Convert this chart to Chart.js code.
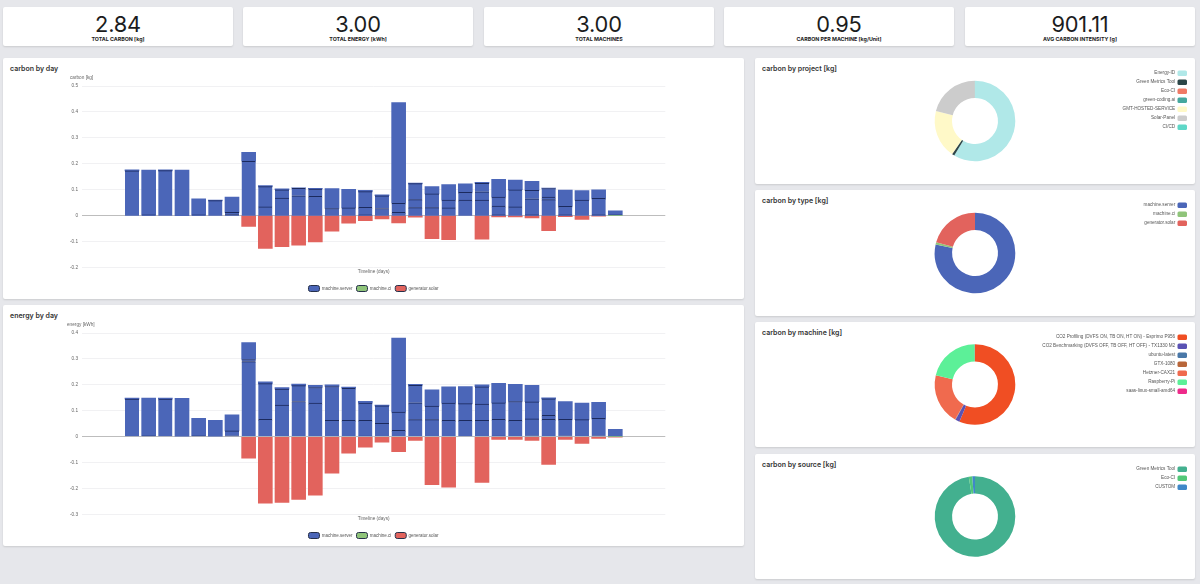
<!DOCTYPE html>
<html><head><meta charset="utf-8">
<script src="https://cdn.jsdelivr.net/npm/chart.js@4"></script>
<style>
html,body{margin:0;padding:0;background:#e6e7eb;width:1200px;height:584px;overflow:hidden;font-family:Inter,Roboto,sans-serif}
.card{position:absolute;background:#fff;border-radius:2px;box-shadow:0 1px 2px rgba(0,0,0,.12)}
.kpi{top:7px;height:39px;width:230px;text-align:center}
.kpi b{display:block;font-weight:400;font-size:21.8px;line-height:24px;margin-top:4.5px;color:#1b1c1d;letter-spacing:-.2px}
.kpi span{display:block;font-weight:700;font-size:5.3px;line-height:7px;margin-top:0;color:#222}
.title{position:absolute;left:7px;top:5.5px;font-weight:600;font-size:7px;line-height:10px;color:#333}
.card canvas{position:absolute;left:0;top:0}
</style></head><body>
<script>
const kpiValues=["2.84","3.00","3.00","0.95","901.11"];
const kpiLabels=["TOTAL CARBON [kg]","TOTAL ENERGY [kWh]","TOTAL MACHINES","CARBON PER MACHINE [kg/Unit]","AVG CARBON INTENSITY [g]"];
const kpiLeft=[3,243,484,724,965];

const dayCount=36, firstDay=3;
const dayLabels=Array.from({length:dayCount},(_,i)=>"day "+(i+1));

// stack boundaries of machine.server per day (first bar onward); last number is the bar top
const carbonServer=[
[.173,.177],[.003,.176],[.174,.177],[.176],[.003,.065],[.058,.06],[.004,.013,.072],[.21,.244],
[.034,.112,.116],[.068,.1,.104],[.077,.106,.108],[.075,.103,.106],[.028,.105],[.03,.102],[.003,.032,.093,.098],[.028,.077,.081],
[.013,.048,.436],[.031,.062,.124,.126],[.031,.084,.112],[.03,.06,.12],[.06,.09,.1226],[.06,.092,.125,.129],[.003,.037,.072,.14],[.034,.1,.137],
[.003,.065,.098,.133],[.062,.072,.105,.107],[.003,.036,.099],[.06,.097],[.003,.067,.1],[.002,.018]];
const carbonCi=[0,0,0,0,0,0,0,0,0,0,0,0,0,0,0,0,0,0,0,0,0,0,0,0,0,0,0,0,0,.001];
const carbonSolar=[0,0,0,0,0,0,0,-.041,-.126,-.119,-.114,-.101,-.06,-.029,-.019,-.012,-.028,-.006,-.088,-.092,0,-.09,-.005,-.005,-.008,-.058,-.004,-.014,-.002,0];

const energyServer=[
[.145,.149],[.004,.149],[.145,.149],[.148],[.004,.071],[.063],[.004,.023,.085],[.29,.298,.363],
[.067,.205,.212],[.122,.184,.19],[.136,.197,.203],[.13,.19,.198],[.063,.194,.2],[.063,.187,.192],[.003,.063,.13,.137],[.052,.119,.122],
[.025,.095,.381],[.066,.131,.198,.202],[.066,.118,.181],[.063,.13,.193],[.063,.128,.194],[.063,.126,.193,.2],[.003,.067,.131,.206],[.063,.136,.202],
[.004,.069,.135,.198],[.067,.083,.146,.15],[.004,.067,.136],[.066,.13],[.004,.071,.133],[.001,.028]];
const energyCi=[0,0,0,0,0,0,0,0,0,0,0,0,0,0,0,0,0,0,0,0,0,0,0,0,0,0,0,0,0,.001];
const energySolar=[0,0,0,0,0,0,0,-.082,-.256,-.253,-.241,-.225,-.14,-.063,-.04,-.021,-.057,-.014,-.185,-.194,0,-.176,-.01,-.01,-.014,-.107,-.01,-.026,-.006,-.001];

const projectLabels=["Energy-ID","Green Metrics Tool","Eco-CI","green-coding.ai","GMT-HOSTED-SERVICE","Solar-Panel","CI/CD"];
const projectValues=[1.665,.028,.001,.001,.548,.596,.001];
const projectColors=["#b0e8e8","#2c4648","#f07a66","#45a89e","#fff9c8","#cccccc","#5fd8c8"];
const typeLabels=["machine.server","machine.ci","generator.solar"];
const typeValues=[2.227,.025,.588];
const typeColors=["#4b66b8","#8fc47a","#e2635d"];
const machineLabels=["CO2 Profiling (DVFS ON, TB ON, HT ON) - Esprimo P956","CO2 Benchmarking (DVFS OFF, TB OFF, HT OFF) - TX1330 M2","ubuntu-latest","GTX-1080","Hetzner-CAX21","Raspberry-Pi","saas-linux-small-amd64"];
const machineValues=[1.6,.048,.003,.003,.582,.602,.002];
const machineColors=["#f04e23","#5a52b4","#4a78a8","#b8663a","#f06a4e","#5cf098","#ee2a8a"];
const sourceLabels=["Green Metrics Tool","Eco-CI","CUSTOM"];
const sourceValues=[2.77,.04,.03];
const sourceColors=["#43b08f","#52c878","#4088c8"];

const BLUE="#4b66b8",GREEN="#8fc47a",RED="#e2635d",DARK="#1b2a5e";
Chart.defaults.font.family="'Liberation Sans', Arial, sans-serif";
Chart.defaults.animation=false;

function el(tag,cls,box,parent){const e=document.createElement(tag);if(cls)e.className=cls;
  if(box)Object.assign(e.style,{left:box[0]+"px",top:box[1]+"px",width:box[2]+"px",height:box[3]+"px"});
  (parent||document.body).appendChild(e);return e;}
function makeCard(box,title){const c=el("div","card",box);
  if(title){const t=el("div","title",null,c);t.textContent=title;}
  const cv=document.createElement("canvas");cv.width=box[2];cv.height=box[3];
  cv.style.width=box[2]+"px";cv.style.height=box[3]+"px";c.appendChild(cv);return cv;}

kpiValues.forEach((v,i)=>{const c=el("div","card kpi");c.style.left=kpiLeft[i]+"px";
  const b=document.createElement("b");b.textContent=v;c.appendChild(b);
  const s=document.createElement("span");s.textContent=kpiLabels[i];c.appendChild(s);});

function pad(a){const r=new Array(dayCount).fill(null);a.forEach((v,i)=>{r[firstDay+i]=v||null;});return r;}
const centerLegend={id:"centerLegend",afterLayout(ch){
  const d=ch.width/2-(ch.legend.left+ch.legend.right)/2;
  ch.legend.left+=d;ch.legend.right+=d;}};
function barChart(box,title,axisTitle,titleLeft,yMin,yMax,server,ci,solar){
  const levels=Math.max(...server.map(d=>d.length));
  const segs=[];
  for(let l=0;l<levels;l++){segs.push(pad(server.map(d=>l<d.length?+(d[l]-(l?d[l-1]:0)).toFixed(4):null)));}
  const counts=pad(server.map(d=>d.length));
  const datasets=[{label:"machine.ci",data:pad(ci),backgroundColor:GREEN,borderWidth:0,stack:"s",barThickness:14}];
  segs.forEach((data,l)=>datasets.push({label:"machine.server",data,backgroundColor:BLUE,borderColor:DARK,stack:"s",barThickness:14,
    borderSkipped:false,
    borderWidth:ctx=>({top:(counts[ctx.dataIndex]!=null&&l<counts[ctx.dataIndex]-1)?1:0,right:0,bottom:0,left:0})}));
  datasets.push({label:"generator.solar",data:pad(solar),backgroundColor:RED,borderWidth:0,stack:"s",barThickness:14});
  new Chart(makeCard(box,title),{type:"bar",plugins:[centerLegend],data:{labels:dayLabels,datasets},options:{
    responsive:false,
    layout:{padding:{left:titleLeft,right:78.7,top:17,bottom:-2.5}},
    plugins:{tooltip:{enabled:false},
      title:{display:true,text:axisTitle,align:"start",color:"#666",font:{size:4.7,weight:"normal",lineHeight:1.2},padding:{top:0,bottom:5.4}},
      legend:{position:"bottom",labels:{boxWidth:11,boxHeight:6,padding:4,color:"#555",font:{size:4.5},useBorderRadius:true,borderRadius:2,
        generateLabels:()=>[["machine.server",BLUE],["machine.ci",GREEN],["generator.solar",RED]].map(([text,c])=>({text,fillStyle:c,strokeStyle:"#26304a",lineWidth:1,fontColor:"#555",hidden:false,borderRadius:2}))}}},
    scales:{
      x:{stacked:true,offset:false,grid:{display:false},border:{display:false},ticks:{display:false},
        title:{display:true,text:"Timeline (days)",color:"#666",font:{size:4.7},padding:{top:1,bottom:6.5}},
        afterFit(s){s.height=13.9;}},
      y:{stacked:true,min:yMin,max:yMax,afterFit(s){s.width=79-titleLeft;},
        ticks:{stepSize:.1,color:"#666",font:{size:4.7},padding:4,callback:v=>String(+v.toFixed(1))},
        border:{display:false},
        grid:{drawTicks:false,lineWidth:1,color:c=>Math.abs(c.tick.value)<1e-9?"#bdbdbd":"#f1f1f3"}}
    }}});
}
barChart([3,58,741,241],"carbon by day","carbon [kg]",67,-.2,.5,carbonServer,carbonCi,carbonSolar);
barChart([3,305,741,241],"energy by day","energy [kWh]",64,-.3,.4,energyServer,energyCi,energySolar);

const centerRing={id:"centerRing",afterLayout(ch){const w=ch.width,h=ch.height;
  ch.chartArea={left:0,top:0,right:w,bottom:h,width:w,height:h};}};
function donut(box,title,labels,values,colors){
  new Chart(makeCard(box,title),{type:"doughnut",plugins:[centerRing],
    data:{labels,datasets:[{data:values,backgroundColor:colors,borderWidth:0,radius:40.3,cutout:"57%"}]},
    options:{responsive:false,
      layout:{padding:{top:8.9,right:4.4,left:0,bottom:0}},
      plugins:{tooltip:{enabled:false},
        legend:{position:"right",align:"start",rtl:true,textDirection:"ltr",
          labels:{boxWidth:9.5,boxHeight:5.4,padding:3.6,color:"#555",font:{size:4.64},useBorderRadius:true,borderRadius:1.5,
            generateLabels:ch=>labels.map((text,i)=>({text,fillStyle:colors[i],strokeStyle:colors[i],lineWidth:0,fontColor:"#555",hidden:false,index:i,borderRadius:1.5}))}}}}});
}
donut([755,58,440,126],"carbon by project [kg]",projectLabels,projectValues,projectColors);
donut([755,190,440,126],"carbon by type [kg]",typeLabels,typeValues,typeColors);
donut([755,322,440,125],"carbon by machine [kg]",machineLabels,machineValues,machineColors);
donut([755,454,440,125],"carbon by source [kg]",sourceLabels,sourceValues,sourceColors);
</script>
</body></html>
